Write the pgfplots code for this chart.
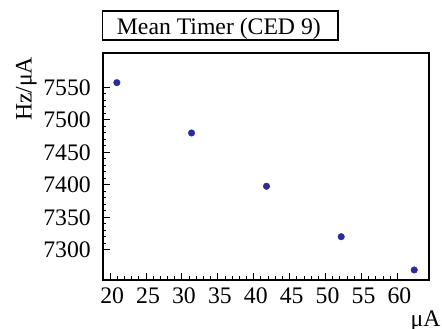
\documentclass[border=0pt]{standalone}
\usepackage{fontspec}
\setmainfont{Liberation Serif}
\usepackage{pgfplots}
\pgfplotsset{compat=1.18}
\definecolor{ptblue}{RGB}{40,45,155}
\begin{document}
\fontsize{23.7bp}{28bp}\selectfont
\begin{tikzpicture}
\useasboundingbox (-103bp,-49bp) rectangle (339bp,280bp);
\begin{axis}[
  at={(0,0)}, anchor=south west,
  scale only axis, width=326bp, height=226.7bp,
  xmin=19, xmax=64.4, ymin=7253.9, ymax=7602.2,
  xtick={20,25,...,60}, ytick={7300,7350,...,7550},
  minor x tick num=4, minor y tick num=4,
  xtick pos=bottom, ytick pos=left, tick align=inside,
  major tick length=7bp, minor tick length=3.5bp,
  axis line style={line width=1.8bp},
  every tick/.style={black, line width=1bp},
  scaled ticks=false,
  /pgf/number format/.cd, set thousands separator={}, assume math mode=true,
  /pgfplots/.cd,
  xticklabel style={inner sep=0pt, anchor=north, yshift=-8bp, xshift=2bp},
  yticklabel style={inner sep=0pt, anchor=east, xshift=-12bp},
]
\addplot[only marks, mark=*, mark size=3.3bp, mark options={fill=ptblue, draw=ptblue}] coordinates {
  (20.93,7557.1) (31.33,7479.8) (41.77,7397.9) (52.17,7320.4) (62.34,7269.3)
};
\end{axis}
\node[draw, line width=1.3bp, minimum width=235.6bp, minimum height=29bp, inner sep=0pt, anchor=south west] at (-1.3bp,239.3bp) {};
\node[anchor=base, inner sep=0pt] at (115.85bp,245bp) {Mean Timer (CED 9)};
\node[rotate=90, anchor=base east, inner sep=0pt] at (-71.3bp,223.3bp) {Hz/μA};
\node[anchor=base east, inner sep=0pt] at (337.7bp,-46.5bp) {μA};
\end{tikzpicture}
\end{document}
